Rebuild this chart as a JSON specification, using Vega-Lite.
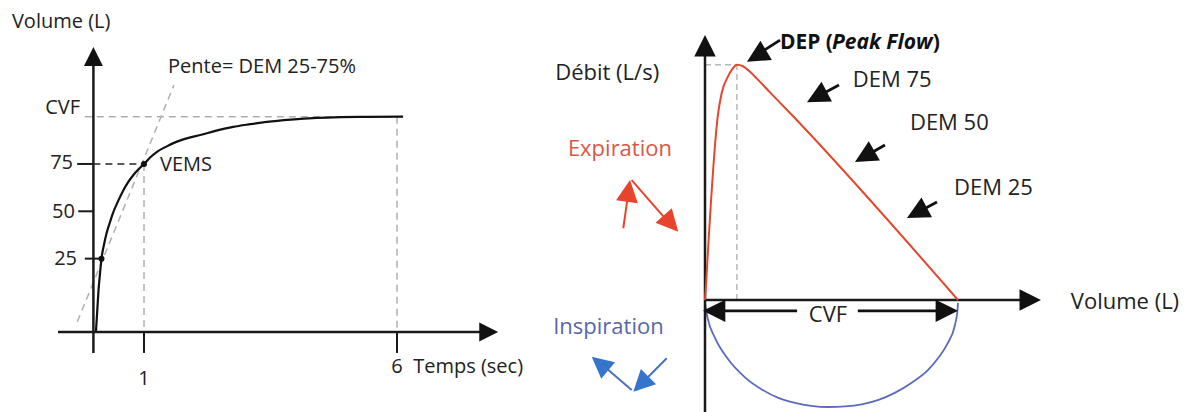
{
  "$schema": "https://vega.github.io/schema/vega-lite/v6.json",
  "background": "white",
  "padding": 0,
  "spacing": 0,
  "bounds": "flush",
  "config": {"view": {"stroke": null}, "font": "Open Sans"},
  "datasets": {
    "L_axes": [
      {"x": 0, "y": -24.8, "x2": 0, "y2": 130},
      {"x": -0.7, "y": -13.7, "x2": 7.75, "y2": -13.7}
    ],
    "L_heads": [
      {"x": 0, "y": 136.8, "angle": 0},
      {"x": 8.0, "y": -13.7, "angle": 90}
    ],
    "L_ticks": [
      {"x": 1, "y": -13.7, "x2": 1, "y2": -24.8},
      {"x": 6, "y": -13.7, "x2": 6, "y2": -24.8},
      {"x": -0.32, "y": 75, "x2": 0, "y2": 75},
      {"x": -0.3, "y": 50, "x2": 0, "y2": 50},
      {"x": -0.17, "y": 25, "x2": 0.16, "y2": 25}
    ],
    "L_dash_black": [
      {"x": 0, "y": 75, "x2": 1, "y2": 75}
    ],
    "L_dash_gray": [
      {"x": -0.17, "y": 100, "x2": 6.12, "y2": 100},
      {"x": 1, "y": 75, "x2": 1, "y2": -13.7},
      {"x": 6, "y": 100, "x2": 6, "y2": -13.7},
      {"x": -0.318, "y": -8.3, "x2": 1.593, "y2": 116.7}
    ],
    "L_curve": [
      {"x": 0.05, "y": -13.7}, {"x": 0.075, "y": -3}, {"x": 0.1, "y": 8}, {"x": 0.13, "y": 17},
      {"x": 0.16, "y": 25}, {"x": 0.21, "y": 32.5}, {"x": 0.26, "y": 38.4}, {"x": 0.33, "y": 44.5},
      {"x": 0.39, "y": 49.3}, {"x": 0.49, "y": 55.5}, {"x": 0.59, "y": 61}, {"x": 0.69, "y": 65.5},
      {"x": 0.79, "y": 69.2}, {"x": 0.9, "y": 72.4}, {"x": 1.0, "y": 75}, {"x": 1.12, "y": 78.4},
      {"x": 1.25, "y": 81.3}, {"x": 1.45, "y": 84.3}, {"x": 1.65, "y": 86.8}, {"x": 1.88, "y": 88.8},
      {"x": 2.11, "y": 90.3}, {"x": 2.43, "y": 92.6}, {"x": 2.76, "y": 94.6}, {"x": 3.1, "y": 96},
      {"x": 3.43, "y": 97.2}, {"x": 3.9, "y": 98.4}, {"x": 4.42, "y": 99.3}, {"x": 4.9, "y": 99.7},
      {"x": 5.41, "y": 99.9}, {"x": 6.12, "y": 100}
    ],
    "L_dots": [
      {"x": 0.16, "y": 25}, {"x": 1, "y": 75}
    ],
    "L_text_left": [
      {"x": -1.61, "y": 150.1, "label": "Volume (L)"},
      {"x": 1.474, "y": 126.2, "label": "Pente= DEM 25-75%"},
      {"x": 1.316, "y": 74.5, "label": "VEMS"},
      {"x": 6.32, "y": -32.2, "label": "Temps (sec)"}
    ],
    "L_text_right": [
      {"x": -0.265, "y": 104.6, "label": "CVF"},
      {"x": -0.403, "y": 75.5, "label": "75"},
      {"x": -0.364, "y": 49.7, "label": "50"},
      {"x": -0.324, "y": 24.8, "label": "25"}
    ],
    "L_text_center": [
      {"x": 1, "y": -38.5, "label": "1"},
      {"x": 6, "y": -32.2, "label": "6"}
    ],
    "R_axes": [
      {"x": 0, "y": -3.81, "x2": 0, "y2": 8.5},
      {"x": 0, "y": 0, "x2": 6.3, "y2": 0}
    ],
    "R_axis_heads": [
      {"x": 0, "y": 9.01, "angle": 0},
      {"x": 6.64, "y": 0, "angle": 90}
    ],
    "R_red": [
      {"x": 0, "y": 0}, {"x": 0.02, "y": 0.5}, {"x": 0.04, "y": 1.12}, {"x": 0.08, "y": 2.28},
      {"x": 0.12, "y": 3.4}, {"x": 0.16, "y": 4.4}, {"x": 0.19, "y": 5.1}, {"x": 0.25, "y": 6.22},
      {"x": 0.33, "y": 7.04}, {"x": 0.45, "y": 7.59}, {"x": 0.55, "y": 7.88}, {"x": 0.63, "y": 8.0},
      {"x": 0.75, "y": 7.95}, {"x": 0.89, "y": 7.76}, {"x": 1.03, "y": 7.52}, {"x": 1.28, "y": 7.07},
      {"x": 1.68, "y": 6.36}, {"x": 5.0, "y": 0}
    ],
    "R_blue": [
      {"x": 0, "y": -0.1}, {"x": 0.05, "y": -0.6}, {"x": 0.2, "y": -1.3}, {"x": 0.45, "y": -2.0},
      {"x": 0.79, "y": -2.63}, {"x": 1.13, "y": -3.05}, {"x": 1.45, "y": -3.33}, {"x": 1.78, "y": -3.5},
      {"x": 2.1, "y": -3.6}, {"x": 2.43, "y": -3.64}, {"x": 2.77, "y": -3.62}, {"x": 3.1, "y": -3.55},
      {"x": 3.43, "y": -3.4}, {"x": 3.75, "y": -3.16}, {"x": 4.1, "y": -2.8}, {"x": 4.41, "y": -2.38},
      {"x": 4.62, "y": -1.95}, {"x": 4.8, "y": -1.46}, {"x": 4.94, "y": -0.85}, {"x": 4.99, "y": -0.35},
      {"x": 5.0, "y": -0.1}
    ],
    "R_dash": [
      {"x": 0, "y": 8.0, "x2": 0.63, "y2": 8.0},
      {"x": 0.63, "y": 0, "x2": 0.63, "y2": 8.0}
    ],
    "R_black_shafts": [
      {"x": 1.482, "y": 8.84, "x2": 0.9, "y2": 8.2},
      {"x": 2.648, "y": 7.31, "x2": 2.1, "y2": 6.8},
      {"x": 3.557, "y": 5.27, "x2": 3.05, "y2": 4.77},
      {"x": 4.585, "y": 3.33, "x2": 4.07, "y2": 2.86},
      {"x": 0.2, "y": -0.37, "x2": 1.82, "y2": -0.37},
      {"x": 3.02, "y": -0.37, "x2": 4.8, "y2": -0.37}
    ],
    "R_black_heads": [
      {"x": 0.83, "y": 8.1, "angle": 239},
      {"x": 2.016, "y": 6.73, "angle": 242},
      {"x": 2.964, "y": 4.69, "angle": 240},
      {"x": 3.992, "y": 2.79, "angle": 242},
      {"x": -0.04, "y": -0.37, "angle": 270},
      {"x": 5.0, "y": -0.37, "angle": 90}
    ],
    "R_red_shafts": [
      {"x": -1.615, "y": 2.44, "x2": -1.49, "y2": 3.95},
      {"x": -1.449, "y": 4.08, "x2": -0.6, "y2": 2.4}
    ],
    "R_red_heads": [
      {"x": -1.482, "y": 4.08, "angle": 8},
      {"x": -0.528, "y": 2.32, "angle": 138}
    ],
    "R_blue_shafts": [
      {"x": -1.449, "y": -3.06, "x2": -2.17, "y2": -2.0},
      {"x": -0.757, "y": -1.98, "x2": -1.38, "y2": -3.06}
    ],
    "R_blue_heads": [
      {"x": -2.239, "y": -1.93, "angle": 310},
      {"x": -1.417, "y": -3.12, "angle": 225}
    ],
    "R_text": [
      {"x": 7.23, "y": -0.07, "label": "Volume (L)"},
      {"x": -2.96, "y": 7.72, "label": "Débit (L/s)"},
      {"x": 2.92, "y": 7.48, "label": "DEM 75"},
      {"x": 4.05, "y": 6.02, "label": "DEM 50"},
      {"x": 4.92, "y": 3.81, "label": "DEM 25"}
    ],
    "R_text_center": [
      {"x": 2.43, "y": -0.51, "label": "CVF"}
    ],
    "R_text_red": [
      {"x": -2.71, "y": 5.14, "label": "Expiration"}
    ],
    "R_text_blue": [
      {"x": -3.0, "y": -0.92, "label": "Inspiration"}
    ],
    "R_text_bold": [
      {"x": 1.48, "y": 8.74, "label": "DEP ("},
      {"x": 4.5, "y": 8.74, "label": ")"}
    ],
    "R_text_bolditalic": [
      {"x": 2.51, "y": 8.74, "label": "Peak Flow"}
    ]
  },
  "hconcat": [
    {
      "width": 540,
      "height": 412,
      "encoding": {
        "x": {"field": "x", "type": "quantitative", "scale": {"domain": [-1.846, 8.826], "nice": false, "zero": false}, "axis": null},
        "y": {"field": "y", "type": "quantitative", "scale": {"domain": [-56, 161.6], "nice": false, "zero": false}, "axis": null}
      },
      "layer": [
        {"data": {"name": "L_dash_gray"}, "mark": {"type": "rule", "color": "#b0b0b0", "strokeWidth": 1.5, "strokeDash": [7, 5]},
         "encoding": {"x2": {"field": "x2"}, "y2": {"field": "y2"}}},
        {"data": {"name": "L_dash_black"}, "mark": {"type": "rule", "color": "#222", "strokeWidth": 1.6, "strokeDash": [7, 5]},
         "encoding": {"x2": {"field": "x2"}, "y2": {"field": "y2"}}},
        {"data": {"name": "L_axes"}, "mark": {"type": "rule", "color": "#1a1a1a", "strokeWidth": 2.5},
         "encoding": {"x2": {"field": "x2"}, "y2": {"field": "y2"}}},
        {"data": {"name": "L_ticks"}, "mark": {"type": "rule", "color": "#1a1a1a", "strokeWidth": 2},
         "encoding": {"x2": {"field": "x2"}, "y2": {"field": "y2"}}},
        {"data": {"name": "L_curve"}, "mark": {"type": "line", "color": "#111", "strokeWidth": 2.2, "interpolate": "monotone"}},
        {"data": {"name": "L_dots"}, "mark": {"type": "circle", "color": "#111", "size": 36, "opacity": 1}},
        {"data": {"name": "L_heads"}, "mark": {"type": "point", "shape": "M0,0L1,2L-1,2Z", "filled": true, "color": "#111", "size": 360, "opacity": 1},
         "encoding": {"angle": {"field": "angle", "type": "quantitative", "scale": null}}},
        {"data": {"name": "L_text_left"}, "mark": {"type": "text", "align": "left", "baseline": "middle", "fontSize": 20, "color": "#222"},
         "encoding": {"text": {"field": "label"}}},
        {"data": {"name": "L_text_right"}, "mark": {"type": "text", "align": "right", "baseline": "middle", "fontSize": 20, "color": "#222"},
         "encoding": {"text": {"field": "label"}}},
        {"data": {"name": "L_text_center"}, "mark": {"type": "text", "align": "center", "baseline": "middle", "fontSize": 20, "color": "#222"},
         "encoding": {"text": {"field": "label"}}}
      ]
    },
    {
      "width": 652,
      "height": 412,
      "encoding": {
        "x": {"field": "x", "type": "quantitative", "scale": {"domain": [-3.261, 9.625], "nice": false, "zero": false}, "axis": null},
        "y": {"field": "y", "type": "quantitative", "scale": {"domain": [-3.81, 10.204], "nice": false, "zero": false}, "axis": null}
      },
      "layer": [
        {"data": {"name": "R_dash"}, "mark": {"type": "rule", "color": "#b8b8b8", "strokeWidth": 1.5, "strokeDash": [6, 4]},
         "encoding": {"x2": {"field": "x2"}, "y2": {"field": "y2"}}},
        {"data": {"name": "R_blue"}, "mark": {"type": "line", "color": "#5b6bbd", "strokeWidth": 1.8, "interpolate": "monotone"}},
        {"data": {"name": "R_axes"}, "mark": {"type": "rule", "color": "#1a1a1a", "strokeWidth": 2.5},
         "encoding": {"x2": {"field": "x2"}, "y2": {"field": "y2"}}},
        {"data": {"name": "R_red"}, "mark": {"type": "line", "color": "#e4472f", "strokeWidth": 2, "interpolate": "monotone"}},
        {"data": {"name": "R_axis_heads"}, "mark": {"type": "point", "shape": "M0,0L1,2L-1,2Z", "filled": true, "color": "#111", "size": 460, "opacity": 1},
         "encoding": {"angle": {"field": "angle", "type": "quantitative", "scale": null}}},
        {"data": {"name": "R_black_shafts"}, "mark": {"type": "rule", "color": "#111", "strokeWidth": 2.8},
         "encoding": {"x2": {"field": "x2"}, "y2": {"field": "y2"}}},
        {"data": {"name": "R_black_heads"}, "mark": {"type": "point", "shape": "M0,0L1,2L-1,2Z", "filled": true, "color": "#111", "size": 500, "opacity": 1},
         "encoding": {"angle": {"field": "angle", "type": "quantitative", "scale": null}}},
        {"data": {"name": "R_red_shafts"}, "mark": {"type": "rule", "color": "#e8432d", "strokeWidth": 2},
         "encoding": {"x2": {"field": "x2"}, "y2": {"field": "y2"}}},
        {"data": {"name": "R_red_heads"}, "mark": {"type": "point", "shape": "M0,0L1,2L-1,2Z", "filled": true, "color": "#e8432d", "size": 480, "opacity": 1},
         "encoding": {"angle": {"field": "angle", "type": "quantitative", "scale": null}}},
        {"data": {"name": "R_blue_shafts"}, "mark": {"type": "rule", "color": "#4a72b8", "strokeWidth": 2},
         "encoding": {"x2": {"field": "x2"}, "y2": {"field": "y2"}}},
        {"data": {"name": "R_blue_heads"}, "mark": {"type": "point", "shape": "M0,0L1,2L-1,2Z", "filled": true, "color": "#3574cc", "size": 460, "opacity": 1},
         "encoding": {"angle": {"field": "angle", "type": "quantitative", "scale": null}}},
        {"data": {"name": "R_text"}, "mark": {"type": "text", "align": "left", "baseline": "middle", "fontSize": 22, "color": "#222"},
         "encoding": {"text": {"field": "label"}}},
        {"data": {"name": "R_text_center"}, "mark": {"type": "text", "align": "center", "baseline": "middle", "fontSize": 22, "color": "#222"},
         "encoding": {"text": {"field": "label"}}},
        {"data": {"name": "R_text_red"}, "mark": {"type": "text", "align": "left", "baseline": "middle", "fontSize": 22, "color": "#dc5646"},
         "encoding": {"text": {"field": "label"}}},
        {"data": {"name": "R_text_blue"}, "mark": {"type": "text", "align": "left", "baseline": "middle", "fontSize": 22, "color": "#5866a8"},
         "encoding": {"text": {"field": "label"}}},
        {"data": {"name": "R_text_bold"}, "mark": {"type": "text", "align": "left", "baseline": "middle", "fontSize": 21, "fontWeight": "bold", "color": "#111"},
         "encoding": {"text": {"field": "label"}}},
        {"data": {"name": "R_text_bolditalic"}, "mark": {"type": "text", "align": "left", "baseline": "middle", "fontSize": 21, "fontWeight": "bold", "fontStyle": "italic", "color": "#111"},
         "encoding": {"text": {"field": "label"}}}
      ]
    }
  ]
}
